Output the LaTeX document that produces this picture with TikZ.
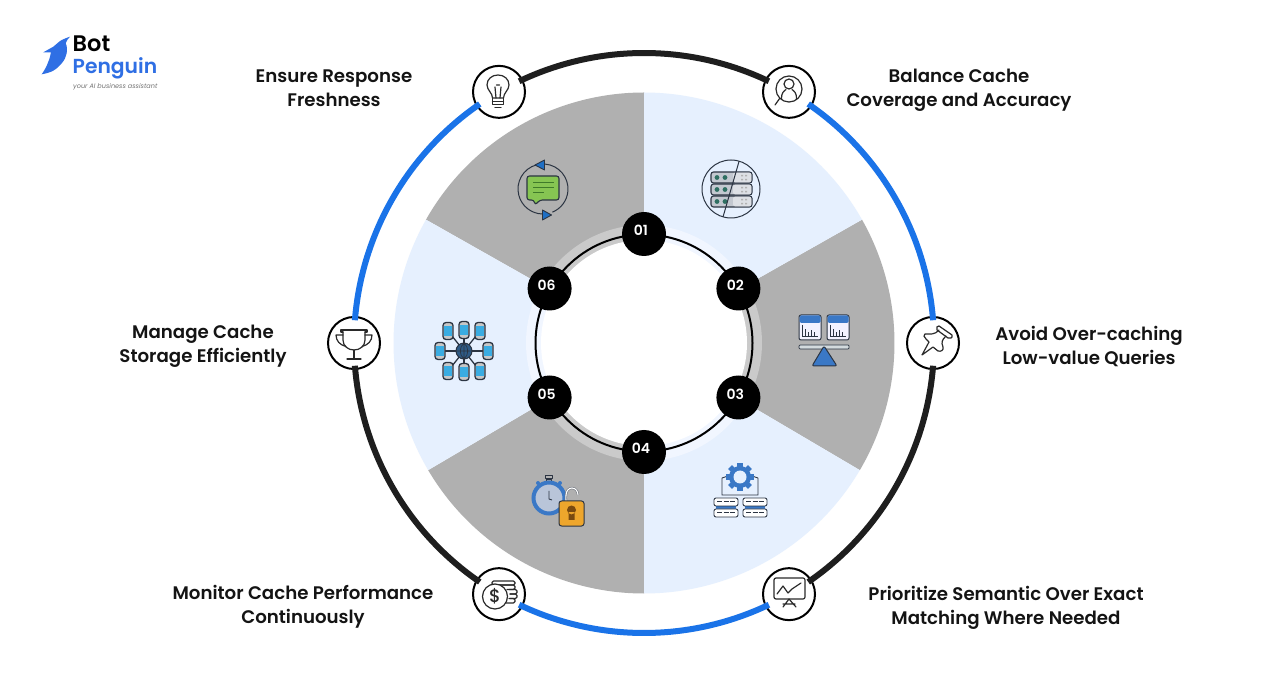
\documentclass[tikz,border=0pt]{standalone}
\usepackage{fontspec}
\setmainfont{Poppins}[UprightFont=* Medium,BoldFont=* SemiBold,ItalicFont=* Italic]
\usetikzlibrary{calc}
\definecolor{ringblue}{HTML}{1A73E8}
\definecolor{ringblack}{HTML}{1E1E1E}
\definecolor{wedgegray}{HTML}{B0B0B0}
\definecolor{wedgeblue}{HTML}{E6F0FE}
\definecolor{bandgray}{HTML}{CACACA}
\definecolor{bandblue}{HTML}{F1F6FF}
\definecolor{illblue}{HTML}{3A78C6}
\definecolor{triblue}{HTML}{1F6FC4}
\definecolor{illdark}{HTML}{2B3442}
\definecolor{icondark}{HTML}{2A2A2A}
\definecolor{logoblue}{HTML}{2F6FE4}
\definecolor{chatgreen}{HTML}{86C552}
\definecolor{chatline}{HTML}{3F7A2A}
\definecolor{srvdot}{HTML}{2F6F62}
\definecolor{srvdark}{HTML}{C3C8D0}
\definecolor{srvlight}{HTML}{DDE0E5}
\definecolor{cylcyan}{HTML}{3AACE2}
\definecolor{globe}{HTML}{2E5A85}
\definecolor{lockorange}{HTML}{EEA62C}
\definecolor{lockhole}{HTML}{7A4A10}
\definecolor{watchface}{HTML}{B9C5D9}
\tikzset{
  at px/.style args={#1,#2}{shift={(#1,686-#2)},yscale=-1},
  numdot/.style={circle,fill=black,minimum size=44pt,inner sep=0pt},
  numtext/.style={text=white,font=\bfseries\fontsize{14}{14}\selectfont,inner sep=0pt},
  ringicon/.style={circle,draw=black,fill=white,line width=2pt,minimum size=52pt,inner sep=0pt},
  arcblack/.style={draw=ringblack,line width=6pt},
  arcblue/.style={draw=ringblue,line width=6pt},
  lbl/.style={align=center,text=black!92,font=\bfseries\fontsize{18.2}{24}\selectfont,inner sep=0pt},
  thin icon/.style={draw=icondark,line width=1.2pt,line join=round,line cap=round},
  ill/.style={draw=illdark,line width=.9pt,line join=round,line cap=round},
}
\begin{document}
\begin{tikzpicture}[x=1pt,y=1pt]
\useasboundingbox (0,0) rectangle (1288,686);
\fill[white] (0,0) rectangle (1288,686);
\coordinate (ctr) at (644,343);
% wedges
\foreach \a/\b in {90/150.5,210.5/270,329.5/389.5}{
  \fill[wedgegray] (ctr) -- ($(ctr)+(\a:250.5)$) arc (\a:\b:250.5) -- cycle;
  \fill[bandgray] (ctr) -- ($(ctr)+(\a:118)$) arc (\a:\b:118) -- cycle;
}
\foreach \a/\b in {29.5/90,150.5/210.5,270/329.5}{
  \fill[wedgeblue] (ctr) -- ($(ctr)+(\a:250.5)$) arc (\a:\b:250.5) -- cycle;
  \fill[bandblue] (ctr) -- ($(ctr)+(\a:118)$) arc (\a:\b:118) -- cycle;
}
\fill[white] (ctr) circle[radius=103];
\draw[black,line width=2pt] (ctr) circle[radius=108.5];
% number dots
\node[numdot] (n1) at ($(ctr)+(90:109)$) {};
\node[numdot] (n2) at ($(ctr)+(30:109)$) {};
\node[numdot] (n3) at ($(ctr)+(-30:109)$) {};
\node[numdot] (n4) at ($(ctr)+(-90:109)$) {};
\node[numdot] (n5) at ($(ctr)+(-150:109)$) {};
\node[numdot] (n6) at ($(ctr)+(150:109)$) {};
\foreach \n/\t in {n1/01,n2/02,n3/03,n4/04,n5/05,n6/06}{
  \node[numtext] at ($(\n)+(-3,3.5)$) {\t};
}
% outer ring icon circles
\node[ringicon] (c1) at ($(ctr)+(120:290)$) {};
\node[ringicon] (c2) at ($(ctr)+(60:290)$) {};
\node[ringicon] (c3) at ($(ctr)+(0:289)$) {};
\node[ringicon] (c4) at ($(ctr)+(-60:290)$) {};
\node[ringicon] (c5) at ($(ctr)+(-120:290)$) {};
\node[ringicon] (c6) at ($(ctr)+(180:290)$) {};
% outer ring arcs, each from one icon circle to the next
\coordinate (s12) at ($(ctr)+(115.5:290)$);
\coordinate (s23) at ($(ctr)+(55.5:290)$);
\coordinate (s34) at ($(ctr)+(-4.5:290)$);
\coordinate (s45) at ($(ctr)+(-64.5:290)$);
\coordinate (s56) at ($(ctr)+(-124.5:290)$);
\coordinate (s61) at ($(ctr)+(175.5:290)$);
\draw[arcblack] (s12) arc (115.5:64.5:290);
\draw[arcblue]  (s23) arc (55.5:4.5:290);
\draw[arcblack] (s34) arc (-4.5:-55.5:290);
\draw[arcblue]  (s45) arc (-64.5:-115.5:290);
\draw[arcblack] (s56) arc (-124.5:-175.5:290);
\draw[arcblue]  (s61) arc (175.5:124.5:290);
% labels
\node[lbl] (l1) at (334,597.5) {Ensure Response\\Freshness};
\node[lbl] (l2) at (959,596) {Balance Cache\\Coverage and Accuracy};
\node[lbl] (l3) at (1089,340) {Avoid Over-caching\\Low-value Queries};
\node[lbl] (l4) at (1006,78.5) {Prioritize Semantic Over Exact\\Matching Where Needed};
\node[lbl] (l5) at (303,79.5) {Monitor Cache Performance\\Continuously};
\node[lbl] (l6) at (203,340) {Manage Cache\\Storage Efficiently};
% --- line icons
\begin{scope}[at px={498,92}]
 \draw[thin icon] (-5.5,6) .. controls (-5.5,1) and (-11,-2) .. (-11,-7) .. controls (-11,-13) and (-6,-17) .. (0,-17) .. controls (6,-17) and (11,-13) .. (11,-7) .. controls (11,-2) and (5.5,1) .. (5.5,6) -- cycle;
 \draw[thin icon] (-5.5,6) -- (-5.5,12.5) -- (5.5,12.5) -- (5.5,6);
 \draw[thin icon] (-5.5,9.5) -- (5.5,9.5);
 \draw[thin icon] (-3,15.5) -- (3,15.5);
 \draw[thin icon] (-2,6) -- (-3,-5) (2,6) -- (3,-5) (-1.5,-7) -- (1.5,-7);
\end{scope}
\begin{scope}[at px={788,92}]
 \draw[thin icon] (1,-3) circle[radius=13];
 \draw[thin icon] (1,-8) circle[radius=5];
 \draw[thin icon] (-6.5,7.5) .. controls (-7,1) and (-4,-1) .. (-2,-2.5) (8.5,7.5) .. controls (9,1) and (6,-1) .. (4,-2.5);
 \draw[thin icon] (-8,6) -- (-13,13);
\end{scope}
\begin{scope}[at px={932,343}]
 \draw[thin icon] (7,-17) -- (20,-8) .. controls (21,-5) and (18,-4) .. (16,-5) -- (5,-13) .. controls (4,-15) and (5,-18) .. (7,-17) -- cycle;
 \draw[thin icon] (7,-13) .. controls (3,-8) and (-2,-9) .. (-7,-9) .. controls (-9,-8) and (-8,-6) .. (-6,-4) -- (-3,-1) -- (-10,12) -- (1,4) -- (6,8) .. controls (9,9) and (12,7) .. (11,4) .. controls (9,-1) and (10,-3) .. (14,-7);
\end{scope}
\begin{scope}[at px={790,592}]
 \draw[thin icon,rounded corners=2pt] (-16,-14) rectangle (15,7);
 \draw[thin icon] (-13,2) -- (-7,-6) -- (-2,1) -- (2,-3) -- (11,-9);
 \draw[thin icon] (-1,7) -- (-7,15) (-1,7) -- (6,15) (-7,12) -- (5,12);
\end{scope}
\begin{scope}[at px={500,593}]
 \draw[thin icon,rounded corners=1.5pt] (-8,-12) -- (15,-12) -- (15,-8) -- (-8,-8) -- cycle;
 \draw[thin icon,rounded corners=1.5pt] (-8,-8) -- (15,-8) -- (15,-3.5) -- (7,-3.5);
 \draw[thin icon,rounded corners=1.5pt] (9,-3.5) -- (17,-3.5) -- (17,1) -- (10,1);
 \draw[thin icon,rounded corners=1.5pt] (10,1) -- (17,1) -- (17,5.5) -- (10,5.5);
 \draw[thin icon,rounded corners=1.5pt] (9,5.5) -- (15,5.5) -- (15,10) -- (6,10);
 \draw[thin icon,fill=white] (-5,3.5) circle[radius=12.5];
 \node[inner sep=0pt,text=icondark,font=\fontsize{18}{18}\selectfont] (dollar) at (-5,3.5) {\$};
\end{scope}
\begin{scope}[at px={354,343}]
 \draw[thin icon] (-11,-11) -- (-11,-3) .. controls (-11,3) and (-6,7) .. (0,7) .. controls (6,7) and (11,3) .. (11,-3) -- (11,-11);
 \draw[thin icon] (-11,-11) -- (-13,-11) -- (-13,-13) -- (13,-13) -- (13,-11) -- (11,-11);
 \draw[thin icon] (-11,-8) -- (-18,-8) .. controls (-18,-2) and (-14,2) .. (-8,3.5);
 \draw[thin icon] (11,-8) -- (18,-8) .. controls (18,-2) and (14,2) .. (8,3.5);
 \draw[thin icon] (0,7) -- (0,16) (-7,16) -- (7,16);
\end{scope}
% --- illustrations
% chat
\begin{scope}[at px={543,189}]
 \draw[draw=illdark,line width=1pt] (-105:25) arc (-105:-268:25);
 \draw[draw=illdark,line width=1pt] (-85:25) arc (-85:68:25);
 \filldraw[fill=triblue,ill] (-8,-24) -- (1.5,-29) -- (1.5,-19) -- cycle;
 \filldraw[fill=triblue,ill] (8.5,26) -- (-.5,21) -- (-.5,31) -- cycle;
 \filldraw[fill=chatgreen,ill,rounded corners=2.5pt,line width=1.1pt] (-16,-13) -- (16,-13) -- (16,11) -- (-3,11) -- (-8,16) -- (-9,11) -- (-16,11) -- cycle;
 \draw[draw=chatline,line width=.9pt] (-10,-7) -- (11,-7) (-10,-2) -- (11,-2) (-10,3) -- (1,3);
\end{scope}
% servers crossed
\begin{scope}[at px={731,189}]
 \foreach \yy in {-17,-5,7}{
  \filldraw[fill=srvdark,ill,line width=1.1pt,rounded corners=2.5pt] (-20,\yy) rectangle (21,\yy+11);
  \fill[srvlight,rounded corners=2pt] (2,\yy+.7) rectangle (20.4,\yy+10.3);
  \fill[srvdot] (-14,\yy+5.5) circle[radius=2.4];
  \fill[srvdot] (-6,\yy+5.5) circle[radius=2.4];
  \fill[black!30] (10,\yy+3) rectangle +(2,1.5) (14,\yy+3) rectangle +(2,1.5) (10,\yy+7) rectangle +(2,1.5) (14,\yy+7) rectangle +(2,1.5);
 }
 \draw[draw=illdark,line width=1pt] (0,0) circle[radius=29];
 \draw[draw=illdark,line width=1pt] (8,-27.5) -- (-8,28);
\end{scope}
% network
\begin{scope}[at px={464,351}]
 \foreach \px/\py in {-16/-20,0/-21,16/-20,-24/0,24/0,-16/20,0/21,16/20}{
  \draw[draw=illdark,line width=1.3pt] (0,0) -- (\px,\py);
 }
 \foreach \px/\py in {-16/-20,0/-21,16/-20,-24/0,24/0,-16/20,0/21,16/20}{
  \begin{scope}[shift={(\px,\py)}]
   \filldraw[fill=black!22,ill,line width=1.3pt,rounded corners=3pt] (-5,-8.5) rectangle (5,8.5);
   \fill[cylcyan] (-4.3,-5) rectangle (4.3,5);
  \end{scope}
 }
 \filldraw[fill=globe,ill,line width=1pt] (0,0) circle[radius=8];
 \draw[draw=illdark,line width=.7pt] (-8,0) -- (8,0) (0,-8) -- (0,8) (0,-8) .. controls (-5,-4) and (-5,4) .. (0,8) (0,-8) .. controls (5,-4) and (5,4) .. (0,8);
\end{scope}
% scale and windows
\begin{scope}[at px={824,340}]
 \foreach \wx in {-25,3}{
  \begin{scope}[shift={(\wx,0)}]
   \filldraw[fill=blue!5,ill,rounded corners=2pt,line width=1pt] (0,-25) rectangle (22,0);
   \fill[illblue,rounded corners=1.5pt] (.5,-24.5) rectangle (21.5,-17);
   \draw[draw=illdark,line width=.7pt] (3,-15) -- (3,-4) -- (19,-4);
   \draw[draw=illdark,line width=.9pt] (6,-4) -- (6,-11) (9,-4) -- (9,-8) (12,-4) -- (12,-10) (15,-4) -- (15,-8);
  \end{scope}
 }
 \filldraw[fill=cyan!25!black!20,ill,line width=.7pt,rounded corners=1pt] (-25,5) rectangle (25,9);
 \filldraw[fill=illblue,ill,line width=1pt,rounded corners=2pt] (0,6) -- (13,26) -- (-12,26) -- cycle;
\end{scope}
% stopwatch and lock
\begin{scope}[at px={549,498}]
 \filldraw[fill=black!35,ill,line width=.8pt] (-2.5,-19) rectangle (2.5,-16);
 \filldraw[fill=black!30,ill,line width=.8pt] (-3.5,-23) rectangle (3.5,-20);
 \fill[illblue] (-11,-15) circle[radius=2] (11,-15) circle[radius=2];
 \filldraw[fill=watchface,draw=illblue,line width=4pt] (0,0) circle[radius=15.5];
 \draw[draw=illdark,line width=.9pt] (0,-7) -- (0,1) -- (3,2);
 \draw[draw=illdark!70,line width=2.2pt] (17,3) .. controls (16,-8) and (20,-10) .. (23,-10) .. controls (27,-10) and (29,-6) .. (29,-3);
 \draw[draw=white,line width=1.1pt] (17,3) .. controls (16,-8) and (20,-10) .. (23,-10) .. controls (27,-10) and (29,-6) .. (29,-3);
 \filldraw[fill=lockorange,ill,line width=1pt,rounded corners=2.5pt] (10,3) rectangle (35,28);
 \fill[lockhole] (22.5,12) circle[radius=4.5] (19.5,14) rectangle (25.5,22);
\end{scope}
% gear and servers
\begin{scope}[at px={740,477}]
 \draw[draw=illdark,line width=.9pt] (-18,1) -- (-18,18) -- (18,18) -- (18,1) (-18,1) -- (-12,-1) (18,1) -- (12,-1);
 \foreach \g in {0,45,...,315}{
  \fill[illblue] (\g:9) ++(\g-90:2.8) -- ++(\g:5) -- ++(\g+90:5.6) -- ++(\g:-5) -- cycle;
 }
 \fill[illblue] (0,0) circle[radius=11];
 \fill[wedgeblue] (0,0) circle[radius=6.5];
 \foreach \sx in {-26,3}{
  \begin{scope}[shift={(\sx,21)}]
   \fill[illblue] (2,8) rectangle (22,11);
   \filldraw[fill=white,ill,rounded corners=2pt,line width=.9pt] (0,0) rectangle (24,8);
   \filldraw[fill=white,ill,rounded corners=2pt,line width=.9pt] (0,11) rectangle (24,19);
   \draw[draw=illdark,line width=1pt,dash pattern=on 5pt off 1.5pt] (3,4) -- (21,4) (3,15) -- (21,15);
  \end{scope}
 }
\end{scope}
% logo
\begin{scope}[at px={0,0}]
 \fill[logoblue] (70,36.7) .. controls (66,38) and (64,39) .. (61.7,40) .. controls (58,42) and (56,45) .. (53.3,46.7) -- (43.3,52.3) -- (51,52.3) .. controls (50,56) and (50,58) .. (48.3,61.7) .. controls (47,66) and (44,71) .. (41.7,74.3) .. controls (46,73.5) and (50,72.5) .. (53.3,70.7) .. controls (57,68.5) and (59.5,66) .. (61.7,63.3) .. controls (64.5,60) and (66,57) .. (66.7,53.3) .. controls (67.5,50) and (67,46) .. (65.7,43.3) .. controls (66.5,41) and (68,38.5) .. (70,36.7) -- cycle;
\end{scope}
\node[anchor=base west,inner sep=0pt,text=black,font=\bfseries\fontsize{22.5}{23}\selectfont] (bot) at (72.5,634) {Bot};
\node[anchor=base west,inner sep=0pt,text=logoblue,font=\bfseries\fontsize{20.3}{23}\selectfont] (pen) at (72.5,612) {Penguin};
\node[anchor=base west,inner sep=0pt,text=black!55,font=\itshape\fontsize{6.5}{7}\selectfont] (tag) at (73,597) {your AI business assistant};
\end{tikzpicture}
\end{document}
